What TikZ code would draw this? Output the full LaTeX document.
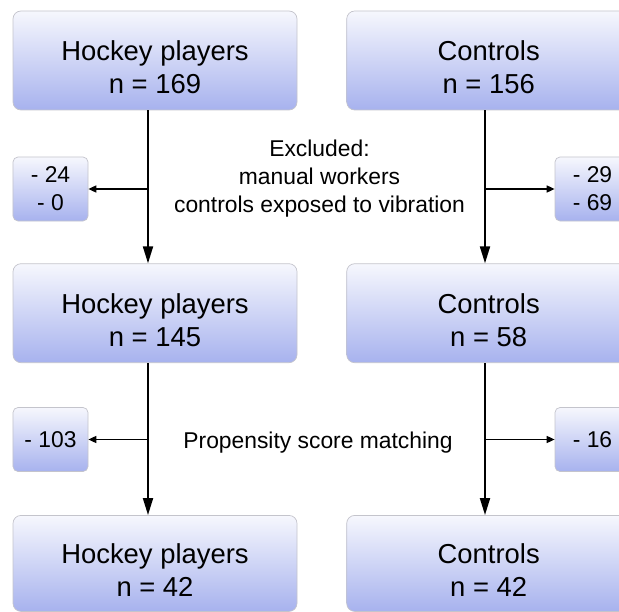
\documentclass[tikz,border=0pt]{standalone}
\usepackage{fontspec}
\setmainfont{Liberation Sans}
\usetikzlibrary{arrows.meta,positioning,calc}
\definecolor{boxtop}{HTML}{F6F7FD}
\definecolor{boxbot}{HTML}{A7B2EE}
\definecolor{boxline}{HTML}{C4C4CC}
\newcommand{\grouptext}[2]{\rule{0pt}{0.66cm}#1\\n = #2}

\begin{document}
\begin{tikzpicture}[>=Latex,node distance=0.98cm,
    group/.style={draw=boxline,line width=0.4pt,rounded corners=0.16cm,top color=boxtop,bottom color=boxbot,minimum width=5.68cm,minimum height=1.98cm,align=center,inner sep=0pt,font=\fontsize{15.6}{18.8}\selectfont},
    loss/.style={draw=boxline,line width=0.4pt,rounded corners=0.1cm,top color=boxtop,bottom color=boxbot,minimum width=1.5cm,minimum height=1.28cm,align=center,inner sep=0pt,font=\fontsize{13}{15.9}\selectfont},
    note/.style={align=center,font=\fontsize{13}{15.9}\selectfont},
    flow/.style={-{Triangle[length=0.34cm,width=0.2cm]},line width=1.1pt},
    drop/.style={-{Triangle[length=0.16cm,width=0.14cm]},line width=0.9pt}]
    \useasboundingbox (0,0) rectangle (12.38,-12.24);
    % the two cohorts, three stages
    \node[group] (hp1) at (3.10,-1.21) {\grouptext{Hockey players}{169}};
    \node[group,right=of hp1] (ctl1) {\grouptext{Controls}{156}};
    \node[group,below=3.06cm of hp1] (hp2) {\grouptext{Hockey players}{145}};
    \node[group,right=of hp2] (ctl2) {\grouptext{Controls}{58}};
    \node[group,below=3.04cm of hp2,minimum height=1.92cm] (hp3) {\grouptext{Hockey players}{42}};
    \node[group,right=of hp3,minimum height=1.92cm] (ctl3) {\grouptext{Controls}{42}};
    % excluded counts
    \node[loss] (hpex1) at (1.01,-3.78) {- 24\\- 0};
    \node[loss] (ctlex1) at (11.85,-3.78) {- 29\\- 69};
    \node[loss] (hpex2) at (1.01,-8.79) {- 103};
    \node[loss] (ctlex2) at (11.85,-8.79) {- 16};
    \node[note] (excl) at (6.39,-3.58) {Excluded:\\manual workers\\controls exposed to vibration};
    \node[note] (psm) at (6.36,-8.85) {Propensity score matching};
    \coordinate (hpline) at (2.96,0);
    \coordinate (ctlline) at (9.70,0);
    \draw[flow] (hpline |- hp1.south) -- (hpline |- hp2.north);
    \draw[flow] (hpline |- hp2.south) -- (hpline |- hp3.north);
    \draw[flow] (ctlline |- ctl1.south) -- (ctlline |- ctl2.north);
    \draw[flow] (ctlline |- ctl2.south) -- (ctlline |- ctl3.north);
    \draw[drop] (hpline |- hpex1) -- (hpex1.east);
    \draw[drop] (ctlline |- ctlex1) -- (ctlex1.west);
    \draw[drop] (hpline |- hpex2) -- (hpex2.east);
    \draw[drop] (ctlline |- ctlex2) -- (ctlex2.west);
\end{tikzpicture}
\end{document}
